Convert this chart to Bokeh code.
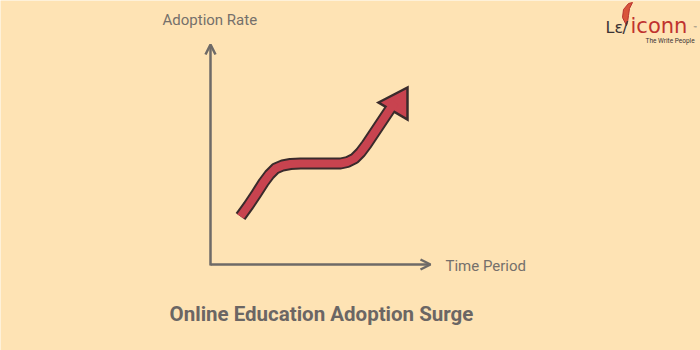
from bokeh.plotting import figure
from bokeh.models import Range1d, Arrow, OpenHead, Label
from bokeh.embed import file_html
from bokeh.resources import INLINE

# ---- data (time units vs adoption units, origin at the axes' corner) ----
time = [30, 38, 46, 53, 59, 65, 72, 80, 90, 105, 120, 130, 137, 144, 150, 156, 162, 168, 174, 180, 185]
adoption = [49, 60, 72, 83, 91, 97, 100, 101.5, 102, 102, 102, 102, 103.5, 107, 113, 121, 130, 139, 148, 157, 163]
head_time = [168, 197, 197]
head_adoption = [163, 178, 146]

x_axis_len = 220
y_axis_len = 221

title_text = "Online Education Adoption Surge"
x_label = "Time Period"
y_label = "Adoption Rate"

BG = "#FEE3B4"
AXIS = "#6E6A67"
TEXT = "#75706B"
RED = "#C8434F"
DARK = "#3A2B2C"

p = figure(width=700, height=350, output_backend="svg", toolbar_location=None,
           x_range=Range1d(-210, 490), y_range=Range1d(-85, 265), min_border=0)
p.background_fill_color = BG
p.border_fill_color = BG
p.outline_line_color = None
p.axis.visible = False
p.grid.visible = False

# axes with open arrow heads
p.add_layout(Arrow(end=OpenHead(size=10, line_color=AXIS, line_width=2.5),
                   x_start=0, y_start=0, x_end=0, y_end=y_axis_len,
                   line_color=AXIS, line_width=2.5))
p.add_layout(Arrow(end=OpenHead(size=10, line_color=AXIS, line_width=2.5),
                   x_start=0, y_start=1, x_end=x_axis_len, y_end=1,
                   line_color=AXIS, line_width=2.5))

# curve: dark outline, red head, red body
p.line(time, adoption, line_color=DARK, line_width=12, line_join="round", line_cap="butt")
p.patch(head_time, head_adoption, fill_color=RED, line_color=DARK, line_width=2.5, line_join="miter")
p.line(time, adoption, line_color=RED, line_width=8, line_join="round", line_cap="butt")

# labels
p.add_layout(Label(x=-48, y=245.5, text=y_label, text_color=TEXT, text_font="Roboto",
                   text_font_size="15px", text_baseline="middle"))
p.add_layout(Label(x=235, y=0, text=x_label, text_color=TEXT, text_font="Roboto",
                   text_font_size="15px", text_baseline="middle"))
p.add_layout(Label(x=111, y=-48, text=title_text, text_color="#6B6664", text_font="Roboto",
                   text_font_size="20.5px", text_font_style="bold", text_align="center",
                   text_baseline="middle"))

# logo
feather_x = [416, 412, 413, 418, 422, 419, 418, 417]
feather_y = [240, 248, 256, 262, 263, 257, 250, 243]
p.patch(feather_x, feather_y, fill_color="#D9543A", line_color="#B8322E", line_width=1)
p.add_layout(Label(x=395, y=237.6, text="Lε", text_color="#3A3335", text_font="DejaVu Sans",
                   text_font_size="16px", text_baseline="middle"))
p.add_layout(Label(x=412, y=237.6, text="/", text_color="#3A3335", text_font="DejaVu Sans",
                   text_font_size="16px", text_baseline="middle"))
p.add_layout(Label(x=420, y=239.4, text="iconn", text_color="#C0322F", text_font="DejaVu Sans",
                   text_font_size="21px", text_baseline="middle"))
p.add_layout(Label(x=483, y=238, text="™", text_color="#6B6664", text_font="Roboto",
                   text_font_size="6px", text_baseline="middle"))
p.add_layout(Label(x=435, y=224.5, text="The Write People", text_color="#3A3335", text_font="Roboto",
                   text_font_size="6.5px", text_baseline="middle"))

open("out.html", "w").write(file_html(p, INLINE))
